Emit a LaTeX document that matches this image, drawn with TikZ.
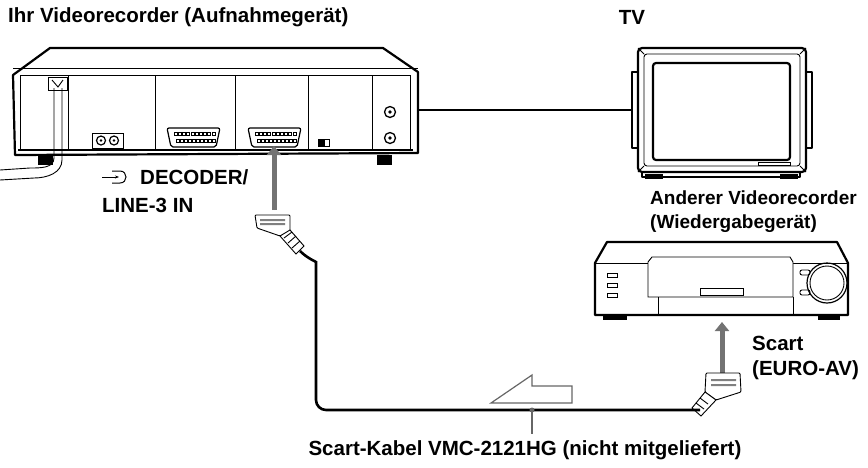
\documentclass[tikz,border=0pt]{standalone}
\usepackage{fontspec}
\setmainfont{Liberation Sans}
\usetikzlibrary{arrows.meta}
\begin{document}
\begin{tikzpicture}[x=1pt,y=-1pt,
  lbl/.style={font=\fontsize{20.5}{24}\selectfont\bfseries, inner sep=0pt},
  lbls/.style={font=\fontsize{19}{22}\selectfont\bfseries, inner sep=0pt},
  dev/.style={line width=2.2pt, line join=round},
  thin/.style={line width=0.9pt},
  cable/.style={line width=2.6pt, rounded corners=10pt},
  garrow/.style={draw=black!55, line width=5pt, -{Triangle[length=9pt,width=14pt]}, fill=black!55},
  plug/.style={line width=0.9pt, fill=white}]
\useasboundingbox (0,0) rectangle (868,467);
% titles
\node[lbl, anchor=west] (t1) at (8,17) {Ihr Videorecorder (Aufnahmegerät)};
\node[lbl] (t2) at (632,17) {TV};
% ---- recording VCR ----
\draw[dev, fill=white] (15,155) -- (13,75) -- (50,48) -- (383,48) -- (418,72) -- (418,153) -- cycle;
\draw[thin] (13,68) -- (418,68);
\draw[dev] (18,150) -- (413,150);
\draw[thin] (20,75) rectangle (410,150);
\foreach \x in {68,155,235,308,372} \draw[thin] (\x,75) -- (\x,150);
\fill (38,155) rectangle (53,165); \fill (377,155) rectangle (392,165);
% power
\draw[thin, fill=white] (48,77) rectangle (67,90);
\draw[thin] (52,80) -- (58,87) -- (63,80);
\draw[thin] (54,88) -- (54,158) to[out=-90,in=0] (30,168) -- (0,170);
\draw[thin] (62,88) -- (62,160) to[out=-90,in=0] (34,178) -- (0,180);
% rca
\draw[thin, fill=white] (92,133) rectangle (123,148);
\draw[line width=1.2pt] (101,140.5) circle (4.5) (114,140.5) circle (4.5);
\fill (101,140.5) circle (1.3) (114,140.5) circle (1.3);
% scarts
\foreach \a in {167,248}{
  \draw[line width=1.2pt, rounded corners=2pt] (\a,128) -- (\a+53,128) -- (\a+49,147) -- (\a+4,147) -- cycle;
  \foreach \i in {0,...,9}{ \draw[line width=0.5pt] (\a+7+\i*4.2,132) rectangle ++(3,3); \draw[line width=0.5pt] (\a+9+\i*4,139) rectangle ++(3,3);}
}
\fill (318,139) rectangle (325,146); \draw[thin] (318,139) rectangle (329,146);
\draw[line width=1.3pt] (390,112) circle (5.5) (390,138) circle (5.5);
\fill (390,112) circle (1.8) (390,138) circle (1.8);
\coordinate (vout) at (418,110);
% ---- TV ----
\draw[dev, fill=white] (632,72) rectangle (640,148);
\draw[dev, fill=white] (803,72) rectangle (812,148);
\draw[dev, fill=white, rounded corners=4pt] (638,48) rectangle (806,172);
\draw[thin, rounded corners=3pt] (644,54) rectangle (800,166);
\draw[thin] (638,48)--(644,54) (806,48)--(800,54) (638,172)--(644,166) (806,172)--(800,166);
\draw[dev, rounded corners=3pt] (653,63) rectangle (790,160);
\draw[thin] (758,162) rectangle (790,165);
\draw[dev] (642,172) -- (642,177) -- (800,177) -- (800,172);
\fill (645,174) rectangle (663,179); \fill (780,174) rectangle (798,179);
\coordinate (tvin) at (632,110);
\draw[line width=2.4pt] (vout) -- (tvin);
% labels
\node[lbl, anchor=west] (dec) at (140,177) {DECODER/};
\draw[line width=0.9pt, -{Stealth[length=4pt]}] (102,177) -- (119,177);
\draw[line width=1pt] (112,171) -- (120,171) .. controls (128,171) and (128,183) .. (120,183) -- (112,183);
\node[lbl, anchor=west] (line) at (102,205) {LINE-3 IN};
\node[lbls, anchor=west] (and) at (650,198) {Anderer Videorecorder};
\node[lbls, anchor=west] (wied) at (650,224) {(Wiedergabegerät)};
\node[lbl, anchor=west] (sc) at (752,343) {Scart};
\node[lbl, anchor=west] (euro) at (752,370) {(EURO-AV)};
\node[lbl] (kab) at (525,450) {Scart-Kabel VMC-2121HG (nicht mitgeliefert)};
% ---- playback VCR ----
\draw[dev, fill=white] (595,263) -- (607,242) -- (837,242) -- (848,263) -- (848,315) -- (595,315) -- cycle;
\draw[thin] (595,263) -- (848,263);
\draw[thin, fill=white] (648,262) -- (652,257) -- (790,257) -- (793,262) -- (793,297) -- (648,297) -- cycle;
\draw[thin] (658,297) -- (658,315) (793,297)--(793,315);
\draw[thin] (700,288) rectangle (743,295);
\foreach \y in {275,285,295} \draw[thin] (607,\y-2) rectangle (617,\y+2);
\draw[line width=1.2pt] (827,283) circle (20);
\draw[thin] (827,283) circle (17);
\draw[thin, rounded corners=2pt] (800,270) rectangle (810,275) (800,290) rectangle (810,295);
\fill (603,315) rectangle (627,320); \fill (818,315) rectangle (840,320);
% ---- plugs & cable ----
\draw[garrow] (274,210) -- (274,146);
\draw[plug, rounded corners=1pt] (255,215) -- (290,215) -- (290,232) -- (280,236) -- (257,228) -- cycle;
\fill[black!50] (260,219) rectangle (285,221) (260,223) rectangle (285,225);
\draw[plug] (280,236) -- (290,230) -- (304,246) -- (296,254) -- cycle;
\draw[thin] (284,238)--(292,232) (288,243)--(296,236) (292,248)--(300,241);
\coordinate (p2) at (700,410);
\draw[garrow] (722,373) -- (722,322);
\draw[plug, rounded corners=1pt] (706,373) -- (740,373) -- (741,392) -- (716,400) -- (705,392) -- cycle;
\fill[black!50] (711,379) rectangle (736,381) (711,384) rectangle (736,386);
\draw[plug] (705,392) -- (716,400) -- (701,416) -- (692,408) -- cycle;
\draw[thin] (700,398)--(708,404) (696,403)--(704,409);
\draw[cable] (300,251) to[out=-45,in=90] (316,272) -- (316,410) -- (p2);
% outline arrow & leader
\draw[line width=1.2pt, black!60, line join=miter] (491,403) -- (532,375) -- (532,386) -- (572,386) -- (572,403) -- cycle;
\coordinate (ld) at (532,410);
\fill[black!60] (ld) circle (2.5);
\draw[line width=1.3pt, black!60] (ld) -- (532,434);
\end{tikzpicture}
\end{document}
